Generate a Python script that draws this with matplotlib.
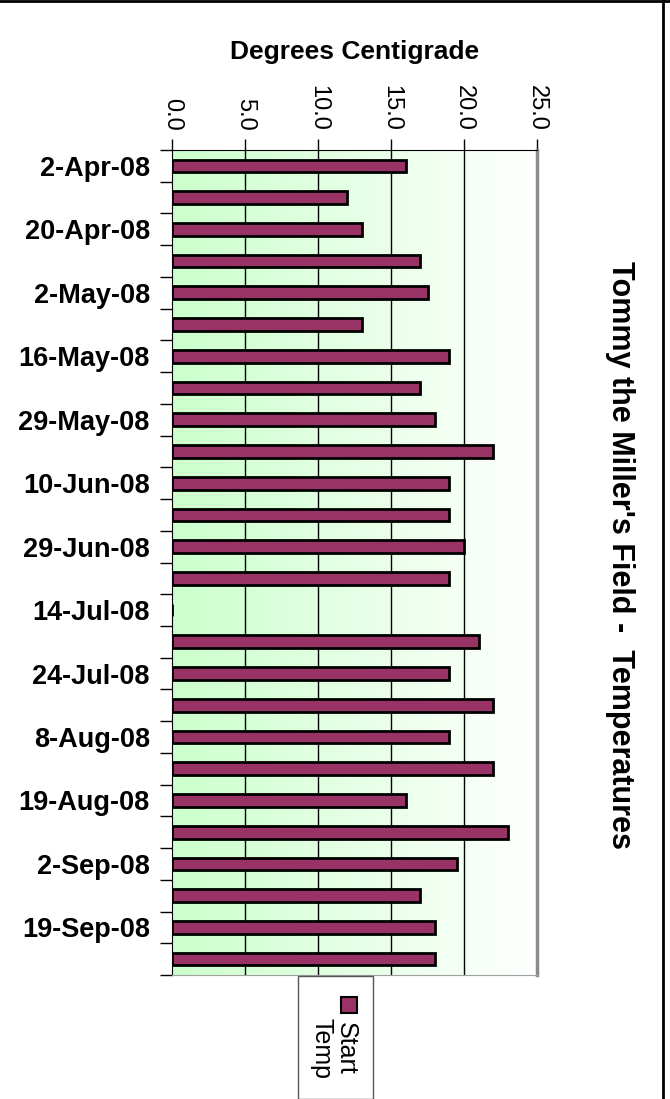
import numpy as np
import matplotlib.pyplot as plt
from matplotlib.patches import Rectangle
from matplotlib.lines import Line2D

plt.rcParams['font.family'] = ['Liberation Sans', 'DejaVu Sans']

# sampling dates (every other one gets a label)
dates = ['2-Apr-08', '', '20-Apr-08', '', '2-May-08', '', '16-May-08', '',
         '29-May-08', '', '10-Jun-08', '', '29-Jun-08', '', '14-Jul-08', '',
         '24-Jul-08', '', '8-Aug-08', '', '19-Aug-08', '', '2-Sep-08', '',
         '19-Sep-08', '']
start_temp = [16, 12, 13, 17, 17.5, 13, 19, 17, 18, 22, 19, 19, 20, 19, 0,
              21, 19, 22, 19, 22, 16, 23, 19.5, 17, 18, 18]
xticks = [0, 5, 10, 15, 20, 25]

W, H = 670, 1099
fig = plt.figure(figsize=(W / 100, H / 100), dpi=100)
ax = fig.add_axes([172 / W, 1 - 975 / H, (537 - 172) / W, (975 - 150) / H])

n = len(dates)
pos = np.arange(n)

# green to white fill behind the bars
grad = np.linspace(0, 1, 256).reshape(1, -1)
c0 = np.array([204, 255, 204]) / 255
c1 = np.array([255, 255, 255]) / 255
img = c0[None, None, :] * (1 - grad[..., None]) + c1[None, None, :] * grad[..., None]
ax.imshow(img, extent=[0, 25, n - 0.5, -0.5], aspect='auto', zorder=0)

for v in xticks[1:-1]:
    ax.axvline(v, color='black', lw=1, zorder=1)

ax.barh(pos, start_temp, height=0.4, color='#993366', edgecolor='black',
        linewidth=2, zorder=3)

ax.set_xlim(0, 25)
ax.set_ylim(n - 0.5, -0.5)

ax.xaxis.tick_top()
ax.set_xticks(xticks)
ax.set_xticklabels(['%.1f' % v for v in xticks], rotation=-90, fontsize=17,
                   va='bottom')
ax.tick_params(axis='x', length=8, width=1, pad=6)

fig.text(355 / W, 1 - 52 / H, 'Degrees Centigrade', fontsize=19,
         fontweight='bold', ha='center', va='center')

# boundaries get ticks, category centres get the date labels
ax.set_yticks(np.arange(n + 1) - 0.5)
ax.set_yticklabels([])
ax.tick_params(axis='y', which='major', length=9, width=1)
ax.set_yticks(pos, minor=True)
ax.set_yticklabels(dates, minor=True, fontsize=19.5, fontweight='bold')
ax.tick_params(axis='y', which='minor', length=0, pad=16)

ax.spines['top'].set_color('black')
ax.spines['left'].set_color('black')
ax.spines['right'].set_color('#8c8c8c')
ax.spines['right'].set_linewidth(2.5)
ax.spines['bottom'].set_color('#a0a0a0')

fig.text(620 / W, 1 - 555 / H, "Tommy the Miller's Field -  Temperatures",
         rotation=-90, fontsize=22, fontweight='bold', ha='center', va='center')

# legend box
fig.add_artist(Rectangle((298 / W, 0), (373 - 298) / W, (H - 976) / H,
                         transform=fig.transFigure, facecolor='white',
                         edgecolor='#555555', lw=1))
fig.add_artist(Rectangle((341 / W, 1 - 1013 / H), 16 / W, 16 / H,
                         transform=fig.transFigure, facecolor='#993366',
                         edgecolor='black', lw=1.5))
fig.text(334 / W, 1 - 1018 / H, 'Start\nTemp', rotation=-90, fontsize=18,
         ha='center', va='top', linespacing=1.0)

# outer frame lines
fig.add_artist(Line2D([0, 1], [1 - 1 / H, 1 - 1 / H], transform=fig.transFigure,
                      color='black', lw=2))
fig.add_artist(Line2D([663 / W, 663 / W], [0, 1], transform=fig.transFigure,
                      color='black', lw=2))

fig.savefig('out.png', dpi=100)
